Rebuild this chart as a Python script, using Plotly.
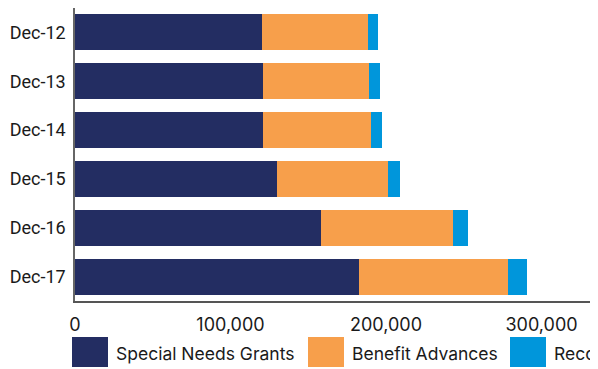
import plotly.graph_objects as go

categories = ["Dec-12", "Dec-13", "Dec-14", "Dec-15", "Dec-16", "Dec-17"]
special_needs_grants = [120300, 120900, 120900, 129900, 158200, 182600]
benefit_advances = [68100, 68200, 69500, 71400, 84900, 95900]
recoveries = [6500, 7000, 7000, 7700, 9600, 12200]
series_names = ["Special Needs Grants", "Benefit Advances", "Recoveries"]
series_colors = ["#232D62", "#F79F4B", "#0096DB"]
tick_vals = [0, 100000, 200000, 300000]
tick_text = ["0", "100,000", "200,000", "300,000"]

# page is shown with the browser's default 8px body margin
OFF = 8
PAGE_W, PAGE_H = 598, 369
W, H = PAGE_W - OFF, PAGE_H - OFF
PL, PR, PT, PB = 75, 598, 8, 301          # plot area in page pixels
ML, MT = PL - OFF, PT - OFF
MR, MB = PAGE_W - PR, PAGE_H - PB
PW, PH = PR - PL, PB - PT

fig = go.Figure()
for name, vals, col in zip(series_names, [special_needs_grants, benefit_advances, recoveries], series_colors):
    fig.add_trace(go.Bar(y=categories, x=vals, name=name, orientation="h",
                         marker=dict(color=col, line=dict(width=0)), showlegend=False))

def px_x(p):
    return (p - PL) / PW

def px_y(p):
    return (PB - p) / PH

shapes, annotations = [], []
legend_x = [72, 308, 510]
for lx, name, col in zip(legend_x, series_names, series_colors):
    shapes.append(dict(type="rect", xref="paper", yref="paper",
                       x0=px_x(lx), x1=px_x(lx + 36), y0=px_y(367), y1=px_y(337),
                       fillcolor=col, line=dict(width=0)))
    annotations.append(dict(xref="paper", yref="paper", x=px_x(lx + 42), y=px_y(353),
                            xanchor="left", yanchor="middle", text=name, showarrow=False,
                            font=dict(family="Inter", size=17.5, color="#1a1a1a")))

fig.update_layout(
    width=W, height=H, margin=dict(l=ML, r=MR, t=MT, b=MB, autoexpand=False),
    barmode="stack", bargap=0.26,
    plot_bgcolor="white", paper_bgcolor="white",
    xaxis=dict(range=[0, PW / 155.5 * 100000], tickvals=tick_vals, ticktext=tick_text,
               showgrid=False, zeroline=False, showline=True, linecolor="#555555", linewidth=2,
               ticks="", ticklabelstandoff=6,
               tickfont=dict(family="Inter", size=18, color="#1a1a1a")),
    yaxis=dict(autorange="reversed", showgrid=False, zeroline=False, showline=True,
               linecolor="#666666", linewidth=1.5, ticks="", ticklabelstandoff=4,
               tickfont=dict(family="Roboto", size=18, color="#1a1a1a")),
    shapes=shapes, annotations=annotations,
)
fig.write_html("out.html")
